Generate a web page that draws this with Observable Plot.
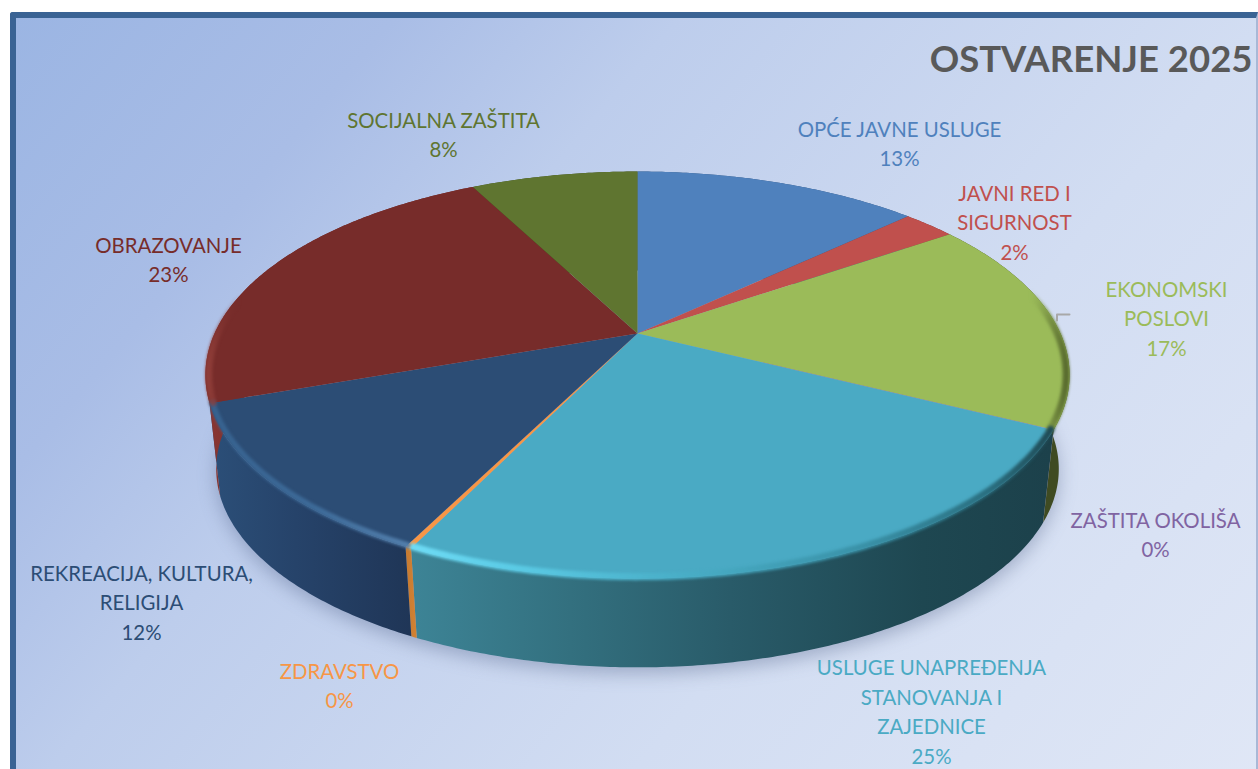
<!DOCTYPE html>
<html>
<head>
<meta charset="utf-8">
<script src="https://cdn.jsdelivr.net/npm/d3@7"></script>
<script src="https://cdn.jsdelivr.net/npm/@observablehq/plot@0.6"></script>
<style>
html,body{margin:0;padding:0;background:#fff;overflow:hidden;width:1258px;height:769px;}
#panel{position:absolute;left:10px;top:12px;width:1240px;height:780px;border-top:6px solid #3a6394;border-left:6px solid #3a6394;border-right:2px solid #a9b8d6;border-top-left-radius:3px;
background:linear-gradient(130deg,#9bb5e3 0%,#a9bde6 20%,#bdcdec 35%,#d2ddf2 66%,#e0e7f6 100%);}
#chart{position:absolute;left:0;top:0;}
</style>
</head>
<body>
<div id="panel"></div>
<div id="chart"></div>
<script>
const titleText = "OSTVARENJE 2025";
const categories = ["OPĆE JAVNE\u00a0USLUGE","JAVNI RED I\nSIGURNOST","EKONOMSKI\nPOSLOVI","ZAŠTITA OKOLIŠA","USLUGE UNAPREĐENJA\nSTANOVANJA I\nZAJEDNICE","ZDRAVSTVO","REKREACIJA, KULTURA,\nRELIGIJA","OBRAZOVANJE","SOCIJALNA ZAŠTITA"];
const shares = [13, 2.4, 17, 0.02, 24.78, 0.2, 12.2, 22.8, 7.6];
const percentLabels = ["13%","2%","17%","0%","25%","0%","12%","23%","8%"];
const sliceColors = ["#4f81bd","#c0504d","#9bbb59","#8064a2","#4aaac4","#f79646","#2c4d75","#772c2a","#5f7530"];

// layout of the tilted disc, in pixels
const W = 1258, H = 769;
const cx = 637, cy = 333, sx = 423, sy = 195, k = 0.204;
const bottomScale = 0.975, bottomDrop = 95 / sy;
// label block centres, in pixels
const labelX = [899,1014,1166,1155,931,339,141,168,443];
const labelY = [141.5,220.5,316.5,532.5,709.5,683.5,600.5,257.5,132.5];
const fontPx = 20.4;

const arcs = d3.pie().sort(null).startAngle(0).endAngle(2*Math.PI)(shares);
const disc = (a, bottom, inset=1) => {
  const u = inset*Math.sin(a), v = inset*Math.cos(a), w = 1 + k*v;
  return bottom ? {x: bottomScale*u/w, y: bottomScale*v/w - bottomDrop} : {x: u/w, y: v/w};
};
const arcPts = (a0, a1, bottom, inset=1) => {
  const n = Math.max(2, Math.ceil((a1-a0)/0.01));
  return d3.range(n+1).map(i => disc(a0 + (a1-a0)*i/n, bottom, inset));
};
const px = v => (v-cx)/sx, py = v => (cy-v)/sy;
const poly = {curve:"linear-closed", x:"x", y:"y", stroke:"none"};

const wallFill = ["#35557f","#7a302e","url(#wallGreen)","#4d3d63","url(#wallTeal)","url(#wallOrange)","url(#wallNavy)","url(#wallRed)","#3d4b1f"];
const order = d3.range(arcs.length).sort((a,b)=>Math.cos((arcs[b].startAngle+arcs[b].endAngle)/2)*-1 - Math.cos((arcs[a].startAngle+arcs[a].endAngle)/2)*-1);

const walls = order.map(i => {
  const a = arcs[i];
  return Plot.line([...arcPts(a.startAngle,a.endAngle,false), ...arcPts(a.startAngle,a.endAngle,true).reverse()], {...poly, fill: wallFill[i]});
});
const tops = arcs.map((a,i) => Plot.line([{x:0,y:0}, ...arcPts(a.startAngle,a.endAngle,false)], {...poly, fill: sliceColors[i]}));

const rimStyles = [
  {i:2, stroke:"url(#rimGreen)", w:7, inset:0.992},
  {i:4, stroke:"url(#rimTeal)", w:7, inset:0.994},
  {i:6, stroke:"url(#rimNavy)", w:6, inset:0.994},
  {i:7, stroke:"url(#rimRed)", w:7, inset:0.992}
];
const rims = rimStyles.map(r => {
  const a = arcs[r.i];
  return Plot.line(arcPts(a.startAngle,a.endAngle,false,r.inset), {x:"x", y:"y", stroke:r.stroke, strokeWidth:r.w, imageFilter:"blur(1.8px)"});
});

const defs = () => {
  const d = d3.create("svg:defs");
  const grad = (id, x1, x2, stops) => {
    const g = d.append("linearGradient").attr("id",id).attr("gradientUnits","userSpaceOnUse")
      .attr("x1",x1).attr("x2",x2).attr("y1",0).attr("y2",0);
    stops.forEach(([o,c,op]) => g.append("stop").attr("offset",o).attr("stop-color",c).attr("stop-opacity",op===undefined?1:op));
  };
  grad("wallTeal",410,1050,[[0,"#3d8496"],[0.25,"#33707f"],[0.5,"#295b69"],[0.8,"#1e4751"],[1,"#1c414b"]]);
  grad("wallNavy",215,415,[[0,"#2b4e77"],[0.4,"#26436a"],[1,"#1f3556"]]);
  grad("wallRed",205,300,[[0,"#8a3632"],[1,"#6e2927"]]);
  grad("wallGreen",1000,1060,[[0,"#3f4b22"],[1,"#3f4b22"]]);
  grad("wallOrange",405,420,[[0,"#c47a32"],[1,"#d98533"]]);
  grad("rimTeal",410,1052,[[0,"#6fdcf5"],[0.15,"#5ccce6"],[0.4,"#4ab0c9"],[0.7,"#3a92a8"],[0.9,"#2a6f80"],[1,"#1f4a55"]]);
  grad("rimNavy",212,412,[[0,"#37628f"],[0.5,"#3d6a98"],[1,"#5480ad"]]);
  grad("rimGreen",1030,1068,[[0,"#8aa74f",0],[0.5,"#7a9344"],[1,"#55672c"]]);
  grad("rimRed",205,240,[[0,"#93403b"],[1,"#772c2a",0]]);
  return d.node();
};

const labels = categories.map((c,i)=>({t:c+"\n"+percentLabels[i], x:px(labelX[i]), y:py(labelY[i]), c:sliceColors[i]}));

const plot = Plot.plot({
  width:W, height:H, margin:0,
  style:{background:"transparent",fontFamily:"Lato, 'Open Sans', sans-serif"},
  x:{axis:null, domain:[px(0),px(W)], range:[0,W]},
  y:{axis:null, domain:[py(H),py(0)], range:[H,0]},
  marks:[
    defs,
    Plot.line(arcPts(0,2*Math.PI,true).map(p=>({x:p.x,y:p.y-6/sy})), {...poly, fill:"#3f4f78", fillOpacity:0.35, imageFilter:"blur(9px)"}),
    ...walls,
    ...tops,
    ...rims,
    Plot.line([{x:px(1056.5),y:py(320)},{x:px(1056.5),y:py(314)},{x:px(1069),y:py(314)}], {x:"x",y:"y",stroke:"#a8a8a8",strokeWidth:2}),
    ...labels.map(l => Plot.text([l], {x:"x",y:"y",text:"t",fill:l.c,fontSize:fontPx,lineHeight:29.5/fontPx,textAnchor:"middle",lineAnchor:"middle"})),
    Plot.text([{t:titleText,x:px(1252),y:py(60)}], {x:"x",y:"y",text:"t",fill:"#595959",fontSize:36.5,fontWeight:700,textAnchor:"end",lineAnchor:"middle"})
  ]
});
document.getElementById("chart").appendChild(plot);
</script>
</body>
</html>
